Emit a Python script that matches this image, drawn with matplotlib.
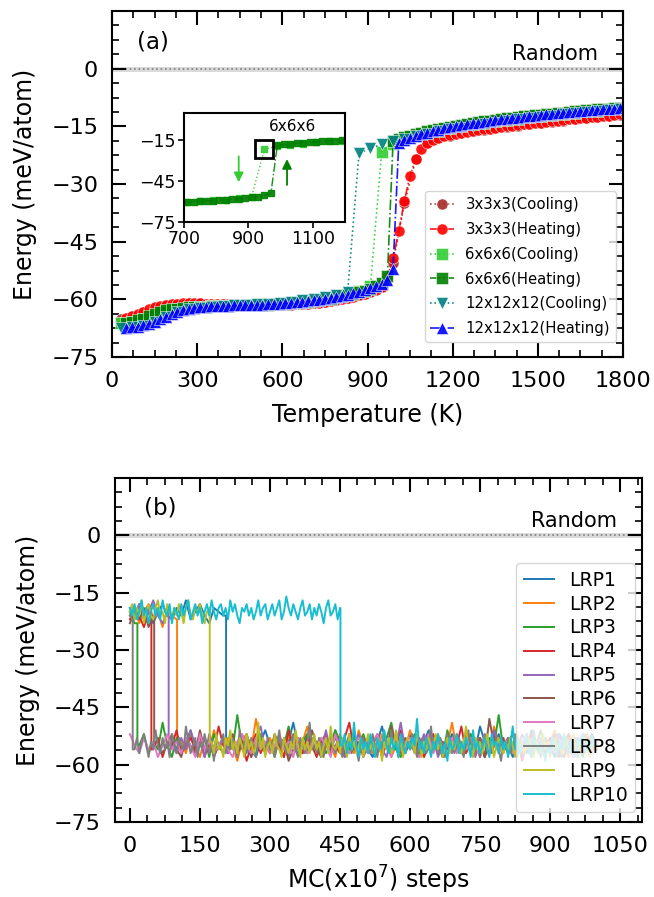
import numpy as np
import matplotlib.pyplot as plt
from matplotlib.ticker import AutoMinorLocator

# --- panel (a): energy vs temperature ------------------------------------
HEAT_T = np.arange(50, 1811, 20)   # heating runs, K
COOL_T = np.arange(30, 1831, 40)   # cooling runs, K

E3_HEAT = [
    -64.8, -64.4, -63.8, -63.2, -62.6, -62.1, -61.7, -61.4, -61.2, -61.1,
    -61.0, -61.0, -61.0, -61.0, -61.1, -61.1, -61.2, -61.2, -61.3, -61.3,
    -61.4, -61.4, -61.5, -61.5, -61.5, -61.5, -61.5, -61.5, -61.4, -61.4,
    -61.3, -61.2, -61.1, -61.0, -60.9, -60.7, -60.5, -60.3, -60.0, -59.7,
    -59.4, -59.0, -58.6, -58.1, -57.5, -56.7, -54.3, -49.3, -42.3, -34.3,
    -27.8, -23.4, -20.8, -19.3, -18.5, -18.0, -17.6, -17.3, -17.0, -16.7,
    -16.5, -16.2, -16.0, -15.8, -15.6, -15.4, -15.2, -15.0, -14.8, -14.7,
    -14.5, -14.3, -14.2, -14.0, -13.8, -13.7, -13.5, -13.4, -13.2, -13.1,
    -12.9, -12.8, -12.6, -12.5, -12.3, -12.2, -12.0, -11.9, -11.7]
E6_HEAT = [
    -66.1, -65.9, -65.5, -65.0, -64.4, -63.8, -63.3, -62.9, -62.6, -62.4,
    -62.2, -62.1, -62.0, -61.9, -61.9, -61.8, -61.8, -61.7, -61.7, -61.6,
    -61.6, -61.5, -61.5, -61.5, -61.4, -61.4, -61.3, -61.2, -61.1, -61.0,
    -60.9, -60.8, -60.6, -60.4, -60.2, -60.0, -59.8, -59.5, -59.2, -58.9,
    -58.5, -58.1, -57.7, -57.2, -56.6, -55.7, -54.0, -18.9, -18.3, -17.8,
    -17.4, -17.0, -16.6, -16.3, -16.0, -15.7, -15.4, -15.1, -14.8, -14.6,
    -14.3, -14.1, -13.9, -13.7, -13.5, -13.3, -13.1, -12.9, -12.8, -12.6,
    -12.4, -12.3, -12.1, -12.0, -11.8, -11.7, -11.5, -11.4, -11.2, -11.1,
    -11.0, -10.8, -10.7, -10.6, -10.5, -10.4, -10.3, -10.2, -10.1]
E12_HEAT = [
    -67.4, -67.3, -67.1, -66.8, -66.4, -65.9, -65.2, -64.5, -63.8, -63.2,
    -62.7, -62.4, -62.2, -62.0, -61.9, -61.8, -61.8, -61.7, -61.7, -61.6,
    -61.6, -61.5, -61.5, -61.4, -61.4, -61.3, -61.2, -61.1, -61.0, -60.9,
    -60.8, -60.6, -60.5, -60.3, -60.1, -59.9, -59.7, -59.4, -59.1, -58.8,
    -58.4, -58.0, -57.6, -57.1, -56.6, -55.9, -55.0, -52.0, -19.4, -18.6,
    -18.0, -17.5, -17.0, -16.6, -16.2, -15.9, -15.5, -15.2, -14.9, -14.7,
    -14.4, -14.2, -14.0, -13.8, -13.6, -13.4, -13.2, -13.0, -12.9, -12.7,
    -12.5, -12.4, -12.2, -12.0, -11.9, -11.7, -11.6, -11.4, -11.3, -11.2,
    -11.0, -10.9, -10.8, -10.7, -10.6, -10.5, -10.4, -10.3, -10.2]

E3_COOL = [
    -65.0, -64.4, -63.3, -62.2, -61.5, -61.1, -61.0, -61.0, -61.1, -61.2,
    -61.3, -61.4, -61.5, -61.5, -61.5, -61.4, -61.2, -61.0, -60.7, -60.3,
    -59.7, -59.0, -58.1, -56.7, -50.5, -35.0, -23.6, -19.4, -18.1, -17.4,
    -16.8, -16.3, -15.9, -15.5, -15.1, -14.8, -14.4, -14.1, -13.8, -13.5,
    -13.2, -12.9, -12.6, -12.3, -12.0, -11.7]
E6_COOL = [
    -66.2, -65.9, -65.1, -64.0, -63.0, -62.5, -62.2, -62.0, -61.8, -61.7,
    -61.6, -61.5, -61.4, -61.3, -61.1, -60.9, -60.6, -60.3, -59.9, -59.4,
    -58.7, -57.8, -56.6, -21.6, -19.6, -18.5, -17.6, -16.8, -16.1, -15.5,
    -15.0, -14.5, -14.1, -13.7, -13.3, -13.0, -12.6, -12.3, -12.0, -11.7,
    -11.4, -11.1, -10.9, -10.6, -10.3, -10.1]
E12_COOL = [
    -67.5, -67.3, -66.9, -66.0, -64.7, -63.4, -62.6, -62.2, -61.9, -61.7,
    -61.6, -61.4, -61.3, -61.1, -60.9, -60.6, -60.3, -59.9, -59.4, -58.8,
    -58.0, -22.0, -20.7, -19.7, -18.9, -18.2, -17.5, -16.9, -16.3, -15.8,
    -15.3, -14.8, -14.4, -14.0, -13.6, -13.2, -12.9, -12.5, -12.2, -11.9,
    -11.6, -11.3, -11.0, -10.7, -10.4, -10.1]

# --- panel (b): energy along 10 MC runs (x10^7 steps, 0..1000) -----------
# LRP1-7 sampled every 10 steps, LRP8-10 every 5 steps
SWITCH = [206, 101, 16, 46, 83, 52, None, 6, 171, 451]   # jump to ordered state

LRP1 = [
    -20, -22, -18, -21, -19, -23, -20, -18, -21, -22,
    -19, -21, -17, -22, -20, -18, -21, -23, -19, -20,
    -21, -55, -53, -57, -54, -52, -56, -58, -54, -51,
    -55, -57, -53, -56, -54, -49, -55, -57, -52, -54,
    -56, -58, -53, -55, -51, -56, -54, -57, -52, -55,
    -53, -56, -58, -54, -50, -55, -57, -53, -54, -56,
    -52, -55, -57, -54, -51, -56, -53, -58, -55, -52,
    -54, -57, -55, -53, -56, -50, -54, -57, -55, -52,
    -56, -54, -58, -53, -55, -57, -51, -54, -56, -53,
    -55, -58, -52, -54, -56, -55, -53, -57, -54, -52,
    -55]
LRP2 = [
    -21, -19, -23, -20, -18, -22, -20, -24, -19, -21,
    -22, -54, -57, -52, -55, -58, -53, -56, -51, -55,
    -57, -53, -55, -59, -54, -52, -56, -48, -55, -57,
    -53, -56, -54, -58, -52, -55, -57, -54, -50, -56,
    -54, -57, -53, -55, -58, -52, -56, -54, -57, -51,
    -55, -53, -57, -56, -52, -54, -58, -55, -53, -56,
    -51, -55, -57, -53, -56, -54, -52, -58, -55, -49,
    -56, -54, -57, -52, -55, -58, -53, -56, -50, -55,
    -57, -53, -55, -54, -58, -52, -56, -55, -53, -57,
    -54, -51, -56, -55, -58, -53, -55, -57, -52, -56,
    -54]
LRP3 = [
    -20, -23, -55, -52, -57, -54, -56, -49, -55, -58,
    -53, -56, -54, -51, -57, -55, -53, -58, -52, -55,
    -57, -54, -56, -47, -55, -53, -57, -55, -52, -56,
    -54, -58, -53, -55, -50, -56, -57, -54, -52, -55,
    -56, -53, -57, -55, -51, -54, -58, -56, -53, -55,
    -52, -56, -54, -57, -55, -53, -49, -56, -58, -54,
    -55, -52, -57, -54, -56, -53, -55, -58, -51, -56,
    -54, -57, -55, -52, -56, -54, -58, -53, -55, -47,
    -56, -54, -52, -57, -55, -53, -58, -55, -51, -56,
    -53, -55, -57, -54, -52, -56, -55, -58, -54, -53,
    -56]
LRP4 = [
    -22, -19, -21, -24, -20, -56, -53, -58, -54, -55,
    -51, -57, -55, -53, -56, -52, -58, -54, -56, -50,
    -55, -57, -53, -56, -54, -59, -55, -52, -57, -54,
    -56, -53, -55, -58, -51, -56, -54, -57, -53, -55,
    -58, -54, -52, -56, -55, -57, -53, -49, -56, -55,
    -53, -57, -55, -52, -58, -54, -56, -55, -51, -57,
    -54, -56, -53, -58, -55, -52, -57, -54, -56, -53,
    -55, -50, -57, -54, -56, -53, -58, -55, -52, -56,
    -54, -57, -55, -53, -59, -55, -52, -56, -54, -57,
    -53, -55, -58, -56, -52, -55, -54, -57, -53, -55,
    -56]
LRP5 = [
    -19, -21, -18, -22, -20, -17, -21, -23, -20, -55,
    -57, -53, -56, -51, -55, -54, -58, -52, -56, -55,
    -53, -57, -54, -56, -52, -55, -58, -53, -50, -56,
    -55, -57, -53, -54, -58, -52, -56, -55, -57, -53,
    -54, -56, -51, -57, -55, -53, -58, -54, -56, -52,
    -55, -57, -54, -53, -56, -58, -52, -55, -49, -56,
    -54, -57, -55, -52, -56, -53, -58, -55, -54, -57,
    -52, -55, -56, -54, -58, -53, -55, -57, -51, -56,
    -55, -53, -57, -56, -52, -55, -58, -54, -56, -53,
    -57, -55, -52, -56, -54, -58, -55, -53, -56, -54,
    -55]
LRP6 = [
    -23, -20, -22, -19, -24, -21, -54, -57, -55, -52,
    -56, -58, -53, -55, -57, -51, -56, -54, -58, -55,
    -53, -56, -52, -57, -55, -54, -58, -53, -56, -55,
    -57, -52, -55, -54, -59, -56, -53, -55, -57, -51,
    -55, -58, -54, -56, -53, -55, -57, -52, -56, -54,
    -58, -55, -53, -57, -54, -56, -50, -55, -57, -53,
    -56, -54, -58, -55, -52, -56, -54, -57, -53, -55,
    -54, -57, -52, -55, -56, -53, -58, -48, -55, -56,
    -53, -57, -55, -54, -58, -52, -56, -55, -53, -57,
    -55, -52, -56, -58, -54, -55, -57, -53, -56, -54,
    -55]
LRP7 = [
    -52, -55, -57, -53, -56, -54, -58, -55, -52, -56,
    -54, -57, -53, -55, -58, -52, -56, -54, -57, -55,
    -53, -56, -58, -54, -52, -55, -57, -53, -56, -54,
    -57, -55, -52, -56, -54, -58, -53, -55, -57, -54,
    -56, -53, -55, -58, -52, -56, -54, -57, -55, -53,
    -55, -57, -54, -52, -56, -55, -58, -53, -56, -54,
    -53, -56, -58, -55, -52, -57, -54, -56, -55, -53,
    -57, -54, -56, -53, -55, -58, -52, -56, -54, -57,
    -55, -53, -57, -56, -54, -52, -58, -55, -53, -56,
    -54, -57, -55, -53, -56, -58, -54, -52, -55, -57,
    -54]
LRP8 = [
    -21, -22, -56, -53, -57, -54, -52, -55, -58, -54,
    -56, -51, -55, -57, -53, -56, -54, -58, -52, -55,
    -57, -53, -55, -56, -50, -54, -57, -55, -53, -58,
    -54, -56, -52, -55, -57, -54, -59, -53, -56, -55,
    -52, -57, -54, -56, -53, -55, -58, -51, -56, -54,
    -57, -55, -53, -56, -58, -52, -55, -54, -57, -53,
    -56, -54, -58, -55, -51, -56, -53, -57, -55, -54,
    -52, -56, -58, -53, -55, -57, -54, -49, -56, -55,
    -57, -53, -55, -58, -54, -56, -52, -55, -57, -54,
    -56, -58, -53, -55, -52, -57, -54, -56, -59, -55,
    -53, -56, -54, -57, -52, -55, -58, -54, -56, -53,
    -55, -57, -51, -56, -54, -58, -55, -53, -57, -54,
    -56, -52, -55, -58, -54, -56, -53, -57, -55, -50,
    -56, -54, -57, -53, -55, -58, -52, -56, -54, -57,
    -55, -53, -56, -58, -54, -51, -56, -55, -57, -53,
    -58, -55, -52, -56, -54, -57, -55, -53, -56, -59,
    -54, -56, -53, -57, -55, -52, -58, -54, -56, -55,
    -53, -57, -55, -51, -56, -54, -58, -55, -53, -56,
    -57, -54, -56, -52, -55, -58, -54, -56, -53, -57,
    -55, -53, -58, -54, -56, -52, -55, -57, -54, -56,
    -55]
LRP9 = [
    -20, -18, -22, -19, -21, -17, -23, -20, -18, -21,
    -22, -19, -17, -21, -20, -23, -18, -20, -22, -19,
    -21, -18, -20, -23, -19, -17, -21, -22, -19, -20,
    -18, -21, -23, -20, -19, -54, -57, -52, -56, -55,
    -58, -53, -55, -51, -56, -54, -57, -53, -55, -58,
    -52, -56, -54, -57, -55, -49, -56, -53, -58, -55,
    -54, -57, -52, -55, -56, -58, -53, -55, -57, -54,
    -56, -51, -55, -58, -53, -56, -54, -57, -55, -52,
    -56, -54, -58, -55, -53, -57, -50, -55, -56, -54,
    -57, -53, -55, -58, -52, -56, -54, -57, -55, -53,
    -58, -55, -52, -56, -54, -57, -53, -55, -59, -54,
    -56, -53, -57, -55, -51, -56, -54, -58, -55, -53,
    -56, -54, -57, -52, -55, -58, -54, -56, -53, -57,
    -55, -52, -56, -54, -58, -55, -53, -57, -54, -56,
    -53, -55, -57, -54, -50, -56, -55, -58, -53, -56,
    -54, -57, -55, -52, -56, -54, -58, -55, -53, -56,
    -57, -54, -56, -53, -55, -58, -52, -56, -54, -57,
    -55, -53, -56, -58, -54, -55, -57, -52, -56, -54,
    -58, -55, -53, -56, -54, -57, -55, -53, -58, -55,
    -52, -56, -54, -57, -55, -53, -56, -58, -54, -55,
    -56]
LRP10 = [
    -19, -21, -18, -22, -20, -17, -21, -19, -23, -20,
    -18, -21, -19, -22, -17, -20, -21, -18, -23, -19,
    -20, -22, -18, -21, -19, -17, -22, -20, -18, -21,
    -19, -23, -20, -18, -21, -17, -20, -22, -19, -18,
    -21, -19, -22, -17, -20, -18, -21, -23, -19, -20,
    -18, -21, -19, -22, -20, -17, -21, -19, -18, -22,
    -20, -18, -21, -19, -17, -22, -20, -16, -19, -21,
    -18, -20, -22, -19, -17, -21, -20, -18, -22, -19,
    -21, -18, -20, -23, -19, -17, -21, -20, -18, -22,
    -19, -55, -52, -57, -54, -56, -49, -55, -58, -53,
    -56, -54, -57, -52, -55, -58, -53, -56, -54, -51,
    -55, -57, -53, -56, -54, -58, -52, -55, -57, -54,
    -56, -53, -55, -48, -56, -54, -57, -53, -55, -58,
    -54, -56, -52, -55, -57, -54, -59, -53, -56, -55,
    -52, -57, -54, -56, -53, -55, -58, -51, -56, -54,
    -57, -55, -53, -56, -58, -52, -55, -54, -57, -53,
    -56, -54, -58, -55, -50, -56, -53, -57, -55, -54,
    -52, -56, -58, -53, -55, -57, -54, -56, -59, -55,
    -57, -53, -55, -58, -54, -56, -52, -55, -57, -54,
    -56, -58, -53, -55, -52, -57, -54, -56, -53, -55,
    -55]
RUNS = [LRP1, LRP2, LRP3, LRP4, LRP5, LRP6, LRP7, LRP8, LRP9, LRP10]


def style_axes(ax):
    ax.tick_params(which='both', direction='in', top=True, right=True,
                   labelsize=16, pad=10)
    ax.tick_params(which='major', length=10, width=1.5)
    ax.tick_params(which='minor', length=5, width=1.2)
    ax.xaxis.set_minor_locator(AutoMinorLocator(4))
    ax.yaxis.set_minor_locator(AutoMinorLocator(4))
    for sp in ax.spines.values():
        sp.set_linewidth(1.5)


def random_line(ax, x_text):
    ax.axhline(0, color='0.85', lw=3.5, zorder=1)
    ax.axhline(0, color='0.5', ls=':', lw=1.2, zorder=1)
    ax.text(x_text, 1.2, 'Random', fontsize=15, ha='right', va='bottom')


def with_switch(vals, s):
    """Samples evenly over 0..1000; the jump at step s drawn vertically."""
    v = np.asarray(vals, float)
    steps = np.linspace(0, 1000, len(v))
    if s is None:
        return steps, v
    k = int(np.searchsorted(steps, s))
    x = np.concatenate([steps[:k], [s, s], steps[k:]])
    y = np.concatenate([v[:k], [v[k - 1], v[k]], v[k:]])
    return x, y


fig = plt.figure(figsize=(6.54, 8.97), dpi=100)

# ---------------- (a) ----------------
ax = fig.add_axes([0.1713, 0.602, 0.7813, 0.3857])
mk = dict(ms=8, mec='white', mew=0.4, lw=1.2, alpha=0.9)
series_a = [
    (COOL_T, E3_COOL, 'brown', 'o', ':', '3x3x3(Cooling)'),
    (HEAT_T, E3_HEAT, 'red', 'o', '-.', '3x3x3(Heating)'),
    (COOL_T, E6_COOL, 'limegreen', 's', ':', '6x6x6(Cooling)'),
    (HEAT_T, E6_HEAT, 'green', 's', '-.', '6x6x6(Heating)'),
    (COOL_T, E12_COOL, 'teal', 'v', ':', '12x12x12(Cooling)'),
    (HEAT_T, E12_HEAT, 'blue', '^', '-.', '12x12x12(Heating)'),
]
for t, e, c, m, ls, lab in series_a:
    ax.plot(t, e, color=c, marker=m, ls=ls, label=lab, **mk)
random_line(ax, 1712)
ax.set_xlim(0, 1800)
ax.set_ylim(-75, 15)
ax.set_xticks(np.arange(0, 1801, 300))
ax.set_yticks(np.arange(-75, 1, 15))
style_axes(ax)
ax.set_xlabel('Temperature (K)', fontsize=17, labelpad=9)
ax.set_ylabel('Energy (meV/atom)', fontsize=17, labelpad=10)
ax.text(0.049, 0.911, '(a)', transform=ax.transAxes, fontsize=16.5,
        va='center')
ax.legend(loc='lower right', bbox_to_anchor=(0.986, 0.043), borderaxespad=0,
          fontsize=10.7, handlelength=1.55, handletextpad=0.8,
          borderpad=0.4, labelspacing=0.66)

# inset: 6x6x6 hysteresis
axi = fig.add_axes([0.2813, 0.7528, 0.2462, 0.1215])
axi.plot(COOL_T, E6_COOL, color='limegreen', marker='s', ls=':', ms=4.5,
         lw=1.0, alpha=0.9)
axi.plot(HEAT_T, E6_HEAT, color='green', marker='s', ls='-.', ms=4.5,
         lw=1.0, alpha=0.9)
axi.plot(COOL_T[23], E6_COOL[23], marker='s', ms=13, mfc='none', mec='k',
         mew=2)
axi.annotate('', xy=(870, -48), xytext=(870, -25),
             arrowprops=dict(arrowstyle='-|>', color='limegreen', lw=1.3,
                             mutation_scale=14))
axi.annotate('', xy=(1020, -27), xytext=(1020, -50),
             arrowprops=dict(arrowstyle='-|>', color='green', lw=1.3,
                             mutation_scale=14))
axi.text(1036, -4.8, '6x6x6', fontsize=11, ha='center', va='center')
axi.set_xlim(700, 1200)
axi.set_ylim(-75, 5)
axi.set_xticks([700, 900, 1100])
axi.set_yticks([-75, -45, -15])
axi.tick_params(labelsize=12.5, length=4, width=1.2, pad=2)
for sp in axi.spines.values():
    sp.set_linewidth(1.5)

# ---------------- (b) ----------------
bx = fig.add_axes([0.1758, 0.0836, 0.8059, 0.3835])
for i, (vals, s) in enumerate(zip(RUNS, SWITCH)):
    x, y = with_switch(vals, s)
    bx.plot(x, y, lw=1.4, label=f'LRP{i + 1}')
random_line(bx, 1043)
bx.set_xlim(-32, 1097)
bx.set_ylim(-75, 15)
bx.set_xticks(np.arange(0, 1051, 150))
bx.set_yticks(np.arange(-75, 1, 15))
style_axes(bx)
bx.set_xlabel(r'MC(x$10^7$) steps', fontsize=17, labelpad=6)
bx.set_ylabel('Energy (meV/atom)', fontsize=17, labelpad=10)
bx.text(0.055, 0.913, '(b)', transform=bx.transAxes, fontsize=16.5,
        va='center')
bx.legend(loc='lower right', bbox_to_anchor=(0.987, 0.029), borderaxespad=0,
          fontsize=13.5, handlelength=1.6, handletextpad=0.8,
          borderpad=0.4, labelspacing=0.26)

fig.savefig('out.png', dpi=100)
